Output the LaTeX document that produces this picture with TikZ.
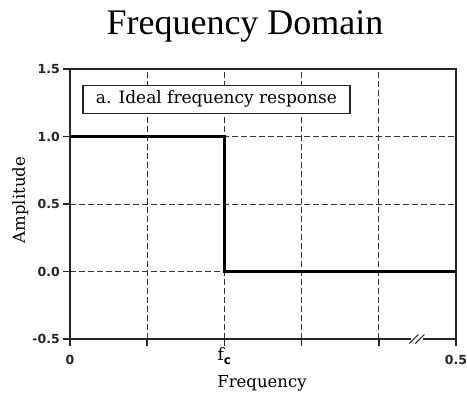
\documentclass[tikz,border=0pt]{standalone}
\usepackage{fontspec}
\setmainfont{DejaVu Serif}
\newfontfamily\titlefont{Liberation Serif}
\newfontfamily\tickfont{DejaVu Sans}
\begin{document}
\begin{tikzpicture}[x=1pt,y=1pt,
  frameline/.style={line width=1.5pt, draw=black!85},
  gridline/.style={line width=1pt, dash pattern=on 6pt off 3pt, draw=black!80},
  resp/.style={line width=2.8pt, draw=black},
  ticklab/.style={font=\tickfont\bfseries\fontsize{12.5}{13}\selectfont, inner sep=1pt, text=black!85},
  axlab/.style={font=\fontsize{16.5}{18}\selectfont, inner sep=0pt},
  legendbox/.style={draw=black!85, line width=1.3pt, fill=white,
    font=\fontsize{17}{19}\selectfont, minimum width=267pt, minimum height=28pt, inner sep=0pt}]
\useasboundingbox (0,0) rectangle (467,392);
\node[font=\titlefont\fontsize{36}{40}\selectfont, anchor=base, inner sep=0pt] (title) at (245,357) {Frequency Domain};
\begin{scope}[shift={(70,120.5)}, x=772pt, y=135pt]
  \coordinate (bl) at (0,-0.5);
  \coordinate (tr) at (0.5,1.5);
  % grid
  \foreach \gx in {0.1,0.2,0.3,0.4} \draw[gridline] (\gx,-0.5) -- (\gx,1.5);
  \foreach \gy in {0,0.5,1} \draw[gridline] (0,\gy) -- (0.5,\gy);
  % frame
  \draw[frameline] (bl) rectangle (tr);
  % ticks
  \foreach \gy in {-0.5,0,0.5,1,1.5} \draw[frameline] (0,\gy) -- ++(-7pt,0);
  \foreach \gx in {0,0.1,0.2,0.3,0.4,0.5} \draw[frameline] (\gx,-0.5) -- ++(0,-7pt);
  % response
  \coordinate (s0) at (0,1);
  \coordinate (s1) at (0.2,1);
  \coordinate (s2) at (0.2,0);
  \coordinate (s3) at (0.5,0);
  \draw[resp, line join=miter] (s0) -- (s1) -- (s2) -- (s3);
  % axis break
  \coordinate (brk) at (0.45,-0.5);
  \fill[white] ([xshift=-6pt,yshift=-0.9pt]brk) rectangle ([xshift=6pt,yshift=0.9pt]brk);
  \draw[frameline, line width=1.1pt] ([xshift=-8pt,yshift=-4.5pt]brk) -- ([xshift=1pt,yshift=4.5pt]brk);
  \draw[frameline, line width=1.1pt] ([xshift=-2pt,yshift=-4.5pt]brk) -- ([xshift=7pt,yshift=4.5pt]brk);
  % tick labels
  \node[ticklab, anchor=east] (y15) at ([xshift=-9pt]0,1.5) {1.5};
  \node[ticklab, anchor=east] (y10) at ([xshift=-9pt]0,1) {1.0};
  \node[ticklab, anchor=east] (y05) at ([xshift=-9pt]0,0.5) {0.5};
  \node[ticklab, anchor=east] (y00) at ([xshift=-9pt]0,0) {0.0};
  \node[ticklab, anchor=east] (ym05) at ([xshift=-9pt]0,-0.5) {-0.5};
  \node[ticklab] (x0) at ([yshift=-21pt]0,-0.5) {0};
  \node[ticklab] (x05) at ([yshift=-21pt]0.5,-0.5) {0.5};
  \node[font=\fontsize{17}{18}\selectfont, inner sep=0pt] (fc) at ([yshift=-17pt]0.2,-0.5)
    {f\raisebox{-3.5pt}{\tickfont\bfseries\fontsize{12}{12}\selectfont c}};
  % legend
  \node[legendbox] (legend) at (0.1896,1.275) {a. Ideal frequency response};
\end{scope}
\node[axlab, anchor=base] (xlabel) at (262,5) {Frequency};
\node[axlab, anchor=base, rotate=90] (ylabel) at (25,192) {Amplitude};
\end{tikzpicture}
\end{document}
